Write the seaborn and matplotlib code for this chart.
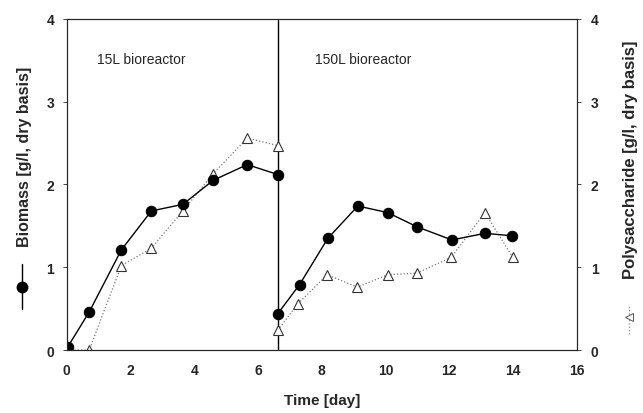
import numpy as np
import matplotlib
matplotlib.use('Agg')
import matplotlib.pyplot as plt
import seaborn as sns
from matplotlib.lines import Line2D

# 15L bioreactor phase
day_15 = [0.03, 0.70, 1.71, 2.65, 3.64, 4.59, 5.66, 6.62]
biomass_15 = [0.04, 0.46, 1.21, 1.68, 1.76, 2.05, 2.24, 2.12]
day_15_ps = [0.03, 0.70, 1.71, 2.65, 3.64, 4.59, 5.66, 6.62]
polysac_15 = [0.0, 0.0, 1.02, 1.23, 1.68, 2.13, 2.56, 2.47]

# 150L bioreactor phase
day_150 = [6.62, 7.30, 8.19, 9.13, 10.07, 10.98, 12.08, 13.12, 13.97]
biomass_150 = [0.44, 0.79, 1.35, 1.74, 1.66, 1.49, 1.33, 1.41, 1.38]
day_150_ps = [6.62, 7.25, 8.17, 9.11, 10.07, 10.99, 12.06, 13.12, 13.99]
polysac_150 = [0.24, 0.56, 0.91, 0.76, 0.91, 0.93, 1.12, 1.66, 1.12]

transfer_day = 6.62
x_ticks = [0, 2, 4, 6, 8, 10, 12, 14, 16]
y_ticks = [0, 1, 2, 3, 4]

sns.set_style('white')
plt.rcParams['font.family'] = ['Liberation Sans', 'DejaVu Sans']

fig = plt.figure(figsize=(6.43, 4.14), dpi=100)
ax = fig.add_axes([0.104, 0.152, 0.793, 0.800])

circ = dict(marker='o', markersize=7.5, markerfacecolor='black', markeredgecolor='black',
            color='black', linewidth=1.0)
tri = dict(marker='^', markersize=6.5, markerfacecolor='white', markeredgecolor='#333333',
           markeredgewidth=0.8, color='#777777', linewidth=0.9, linestyle=':')

for xs, ys in [(day_15_ps, polysac_15), (day_150_ps, polysac_150)]:
    sns.lineplot(x=xs, y=ys, ax=ax, estimator=None, sort=False, **tri)
for xs, ys in [(day_15, biomass_15), (day_150, biomass_150)]:
    sns.lineplot(x=xs, y=ys, ax=ax, estimator=None, sort=False, **circ)

ax.axvline(transfer_day, color='black', linewidth=1.0, zorder=1)

ax.set_xlim(0, 16)
ax.set_ylim(0, 4)
ax.set_xticks(x_ticks)
ax.set_yticks(y_ticks)
ax.tick_params(axis='both', direction='out', length=3, width=0.6, labelsize=10, pad=6)
for lab in ax.get_xticklabels() + ax.get_yticklabels():
    lab.set_fontweight('bold')
for s in ax.spines.values():
    s.set_linewidth(0.8)
    s.set_color('#222222')

ax2 = ax.twinx()
ax2.set_ylim(0, 4)
ax2.set_yticks(y_ticks)
ax2.tick_params(axis='y', direction='out', length=3, width=0.6, labelsize=10, pad=7)
for lab in ax2.get_yticklabels():
    lab.set_fontweight('bold')
ax2.spines['right'].set_linewidth(0.8)

ax.text(0.95, 3.47, '15L bioreactor', fontsize=10)
ax.text(7.8, 3.47, '150L bioreactor', fontsize=10)

ax.set_xlabel('Time [day]', fontsize=11, fontweight='bold', labelpad=12)
ax.set_ylabel('')

fig.text(24 / 643, 1 - 157 / 414, 'Biomass [g/l, dry basis]', rotation=90,
         ha='center', va='center', fontsize=11.5, fontweight='bold')
fig.text(630 / 643, 1 - 160 / 414, 'Polysaccharide [g/l, dry basis]', rotation=90,
         ha='center', va='center', fontsize=12, fontweight='bold')

# legend glyphs beneath the axis titles
fig.add_artist(Line2D([22 / 643, 22 / 643], [1 - 310 / 414, 1 - 265 / 414], color='black',
                      linewidth=1.0, transform=fig.transFigure))
fig.add_artist(Line2D([22 / 643], [1 - 288 / 414], marker='o', markersize=7.5, color='black',
                      transform=fig.transFigure))
fig.add_artist(Line2D([629 / 643, 629 / 643], [1 - 335 / 414, 1 - 305 / 414], color='#888888',
                      linewidth=0.9, linestyle=':', transform=fig.transFigure))
fig.add_artist(Line2D([629 / 643], [1 - 318 / 414], marker='<', markersize=6,
                      markerfacecolor='white', markeredgecolor='#555555', markeredgewidth=0.7,
                      color='none', transform=fig.transFigure))

fig.savefig('out.png', dpi=100)
